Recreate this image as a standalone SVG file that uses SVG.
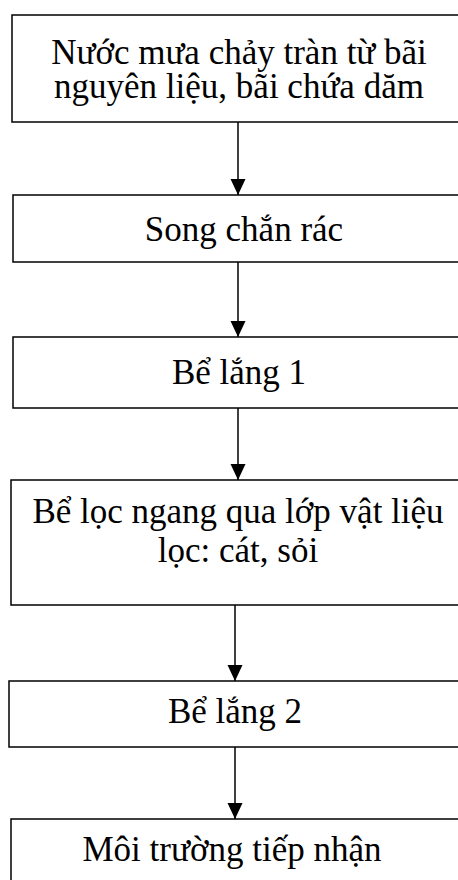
<svg xmlns="http://www.w3.org/2000/svg" width="458" height="880" viewBox="0 0 458 880">
<style>
.box{fill:#fff;stroke:#000;stroke-width:1.5}
.t{font-family:"Liberation Serif","Times New Roman",serif;font-size:35px;fill:#000;text-anchor:middle}
.c{stroke:#000;stroke-width:1.5;fill:none}
</style>
<defs>
<marker id="ah" markerUnits="userSpaceOnUse" markerWidth="16" markerHeight="16" viewBox="0 0 16 16" refX="16" refY="8" orient="auto">
<path d="M0,0.5 L16,8 L0,15.5 Z" fill="#000"/>
</marker>
</defs>
<rect width="458" height="880" fill="#fff"/>
<g id="connectors">
<line class="c" x1="238" y1="122" x2="238" y2="195" marker-end="url(#ah)"/>
<line class="c" x1="238" y1="262" x2="238" y2="337" marker-end="url(#ah)"/>
<line class="c" x1="238" y1="408" x2="238" y2="480" marker-end="url(#ah)"/>
<line class="c" x1="235" y1="605" x2="235" y2="681" marker-end="url(#ah)"/>
<line class="c" x1="235" y1="747" x2="235" y2="819" marker-end="url(#ah)"/>
</g>
<g id="n1">
<rect class="box" x="12" y="15" width="460" height="107"/>
<text class="t" x="239" y="64">Nước mưa chảy tràn từ bãi</text>
<text class="t" x="239" y="98">nguyên liệu, bãi chứa dăm</text>
</g>
<g id="n2">
<rect class="box" x="13" y="195" width="460" height="67"/>
<text class="t" x="244" y="241">Song chắn rác</text>
</g>
<g id="n3">
<rect class="box" x="13" y="337" width="460" height="71"/>
<text class="t" x="239" y="384">Bể lắng 1</text>
</g>
<g id="n4">
<rect class="box" x="11" y="480" width="460" height="125"/>
<text class="t" x="238" y="523">Bể lọc ngang qua lớp vật liệu</text>
<text class="t" x="238" y="562">lọc: cát, sỏi</text>
</g>
<g id="n5">
<rect class="box" x="9" y="681" width="460" height="66"/>
<text class="t" x="235" y="723">Bể lắng 2</text>
</g>
<g id="n6">
<rect class="box" x="11" y="819" width="460" height="80"/>
<text class="t" x="232" y="861">Môi trường tiếp nhận</text>
</g>
</svg>
